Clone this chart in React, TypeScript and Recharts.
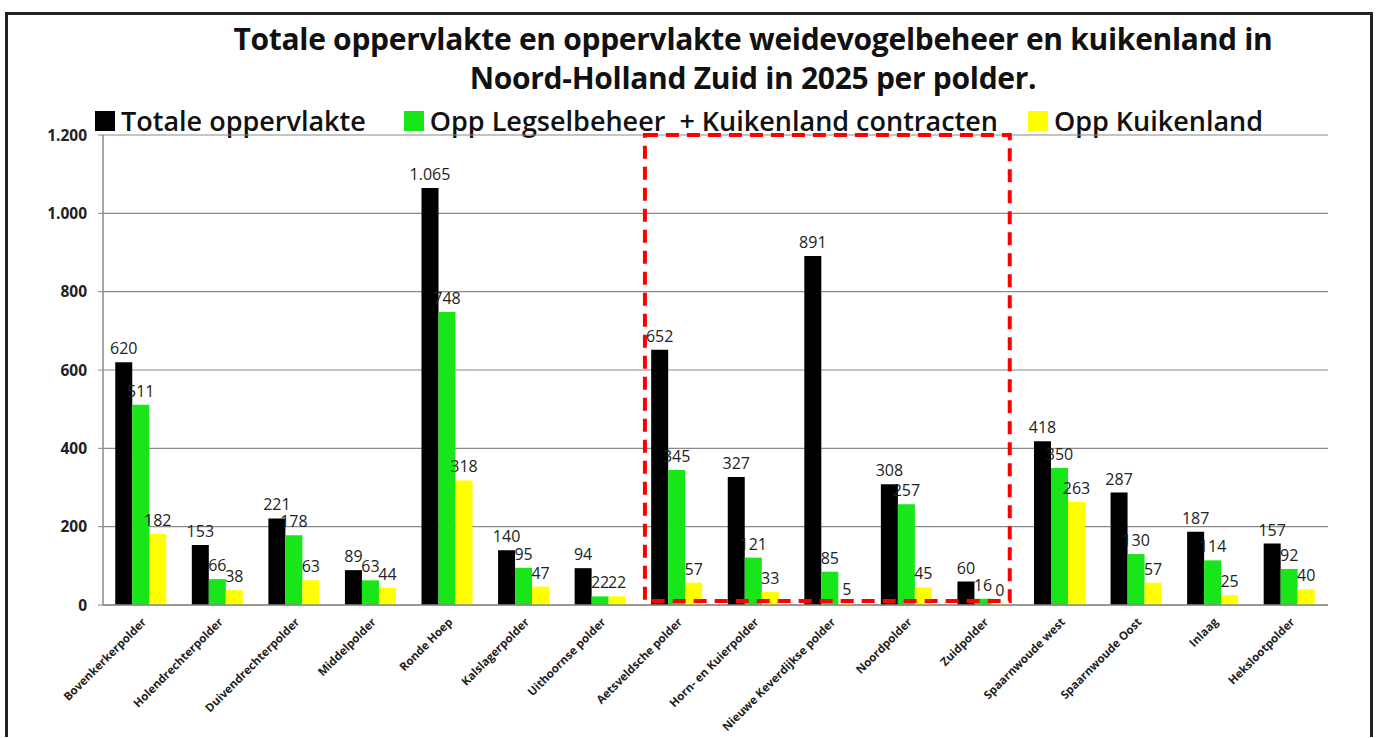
import React from 'react';
import {
  BarChart,
  Bar,
  XAxis,
  YAxis,
  CartesianGrid,
  LabelList,
  ReferenceArea,
} from 'recharts';

const polders: string[] = [
  'Bovenkerkerpolder',
  'Holendrechterpolder',
  'Duivendrechterpolder',
  'Middelpolder',
  'Ronde Hoep',
  'Kalslagerpolder',
  'Uithoornse polder',
  'Aetsveldsche polder',
  'Horn- en Kuierpolder',
  'Nieuwe Keverdijkse polder',
  'Noordpolder',
  'Zuidpolder',
  'Spaarnwoude west',
  'Spaarnwoude Oost',
  'Inlaag',
  'Hekslootpolder',
];

const totaleOppervlakte: number[] = [620, 153, 221, 89, 1065, 140, 94, 652, 327, 891, 308, 60, 418, 287, 187, 157];
const oppLegselbeheer: number[] = [511, 66, 178, 63, 748, 95, 22, 345, 121, 85, 257, 16, 350, 130, 114, 92];
const oppKuikenland: number[] = [182, 38, 63, 44, 318, 47, 22, 57, 33, 5, 45, 0, 263, 57, 25, 40];

const yTicks: number[] = [0, 200, 400, 600, 800, 1000, 1200];

const highlightFrom = 'Aetsveldsche polder';
const highlightTo = 'Zuidpolder';
const highlightLow = 10;
const highlightHigh = 1200;

const titleLines: string[] = [
  'Totale oppervlakte en oppervlakte weidevogelbeheer en kuikenland in',
  'Noord-Holland Zuid in 2025 per polder.',
];

const series = [
  { key: 'totaal', name: 'Totale oppervlakte', color: '#000000' },
  { key: 'legsel', name: 'Opp Legselbeheer  + Kuikenland contracten', color: '#19E619' },
  { key: 'kuiken', name: 'Opp Kuikenland', color: '#FFFF00' },
];

const data = polders.map((p, i) => ({
  polder: p,
  totaal: totaleOppervlakte[i],
  legsel: oppLegselbeheer[i],
  kuiken: oppKuikenland[i],
}));

const fmt = (v: any) => String(v).replace(/\B(?=(\d{3})+(?!\d))/g, '.');

const FONT = "'Open Sans', 'DejaVu Sans', sans-serif";

const DashedBox = (props: any) => {
  const { x, y, width, height } = props;
  return (
    <rect
      x={x + 6}
      y={y}
      width={width - 18}
      height={height}
      fill="none"
      stroke="#FF0000"
      strokeWidth={4}
      strokeDasharray="13 8"
    />
  );
};

const ValueLabel = (props: any) => {
  const { x, y, width, value } = props;
  return (
    <text
      x={x + width / 2}
      y={y - 8}
      textAnchor="middle"
      fontSize={16}
      fill="#222"
      fontFamily={FONT}
    >
      {fmt(value)}
    </text>
  );
};

const CHART_W = 1362;
const CHART_H = 722;
const AXIS_X_H = 132;
const AXIS_Y_W = 95;
const TOP = 120;
const RIGHT = 42;

export default function App() {
  return (
    <div
      style={{
        position: 'absolute',
        left: 5,
        top: 12,
        width: CHART_W,
        height: CHART_H,
        borderTop: '3px solid #222',
        borderLeft: '3px solid #222',
        borderRight: '3px solid #222',
        background: '#fff',
        fontFamily: FONT,
      }}
    >
      <div
        style={{
          position: 'absolute',
          left: 0,
          top: 4,
          width: 1490,
          textAlign: 'center',
          fontWeight: 700,
          fontSize: 30,
          lineHeight: '39px',
          color: '#111',
          letterSpacing: -0.3,
        }}
      >
        {titleLines.map((t) => (
          <div key={t}>{t}</div>
        ))}
      </div>
      <div
        style={{
          position: 'absolute',
          left: 87,
          top: 87,
          display: 'flex',
          alignItems: 'center',
          fontSize: 27,
          fontWeight: 600,
          color: '#111',
          whiteSpace: 'pre',
        }}
      >
        {series.map((s, i) => (
          <div
            key={s.key}
            style={{ display: 'flex', alignItems: 'center', marginRight: i === 0 ? 38 : i === 1 ? 30 : 0 }}
          >
            <span
              style={{ display: 'inline-block', width: 20, height: 20, background: s.color, marginRight: 6 }}
            />
            <span>{s.name}</span>
          </div>
        ))}
      </div>
      <div style={{ position: 'absolute', left: 0, top: 0 }}>
        <BarChart
          width={CHART_W}
          height={CHART_H}
          data={data}
          margin={{ top: TOP, right: RIGHT, left: 0, bottom: 0 }}
          barGap={0}
          barCategoryGap="16%"
        >
          <CartesianGrid vertical={false} stroke="#8a8a8a" strokeWidth={1.2} />
          <XAxis
            dataKey="polder"
            interval={0}
            angle={-45}
            textAnchor="end"
            height={AXIS_X_H}
            tickLine={false}
            axisLine={{ stroke: '#8a8a8a', strokeWidth: 1.5 }}
            tick={{ fontSize: 11.5, fontWeight: 700, fill: '#222', fontFamily: FONT }}
            tickMargin={6}
          />
          <YAxis
            domain={[0, 1200]}
            ticks={yTicks}
            width={AXIS_Y_W}
            tickFormatter={fmt}
            tickSize={5}
            tickMargin={11}
            axisLine={{ stroke: '#8a8a8a', strokeWidth: 1.5 }}
            tickLine={{ stroke: '#8a8a8a' }}
            tick={{ fontSize: 15.5, fontWeight: 700, fill: '#222', fontFamily: FONT }}
          />
          {series.map((s) => (
            <Bar
              key={s.key}
              dataKey={s.key}
              name={s.name}
              fill={s.color}
              minPointSize={1}
              isAnimationActive={false}
            >
              <LabelList dataKey={s.key} content={<ValueLabel />} />
            </Bar>
          ))}
        </BarChart>
      </div>
      <div style={{ position: 'absolute', left: 0, top: 0, pointerEvents: 'none' }}>
        <BarChart
          width={CHART_W}
          height={CHART_H}
          data={data}
          margin={{ top: TOP, right: RIGHT, left: AXIS_Y_W, bottom: AXIS_X_H }}
          barGap={0}
          barCategoryGap="16%"
        >
          <XAxis dataKey="polder" interval={0} hide />
          <YAxis domain={[0, 1200]} ticks={yTicks} hide />
          {series.map((s) => (
            <Bar
              key={s.key}
              dataKey={s.key}
              fill="none"
              fillOpacity={0}
              isAnimationActive={false}
            />
          ))}
          <ReferenceArea
            x1={highlightFrom}
            x2={highlightTo}
            y1={highlightLow}
            y2={highlightHigh}
            ifOverflow="visible"
            shape={<DashedBox />}
          />
        </BarChart>
      </div>
    </div>
  );
}
